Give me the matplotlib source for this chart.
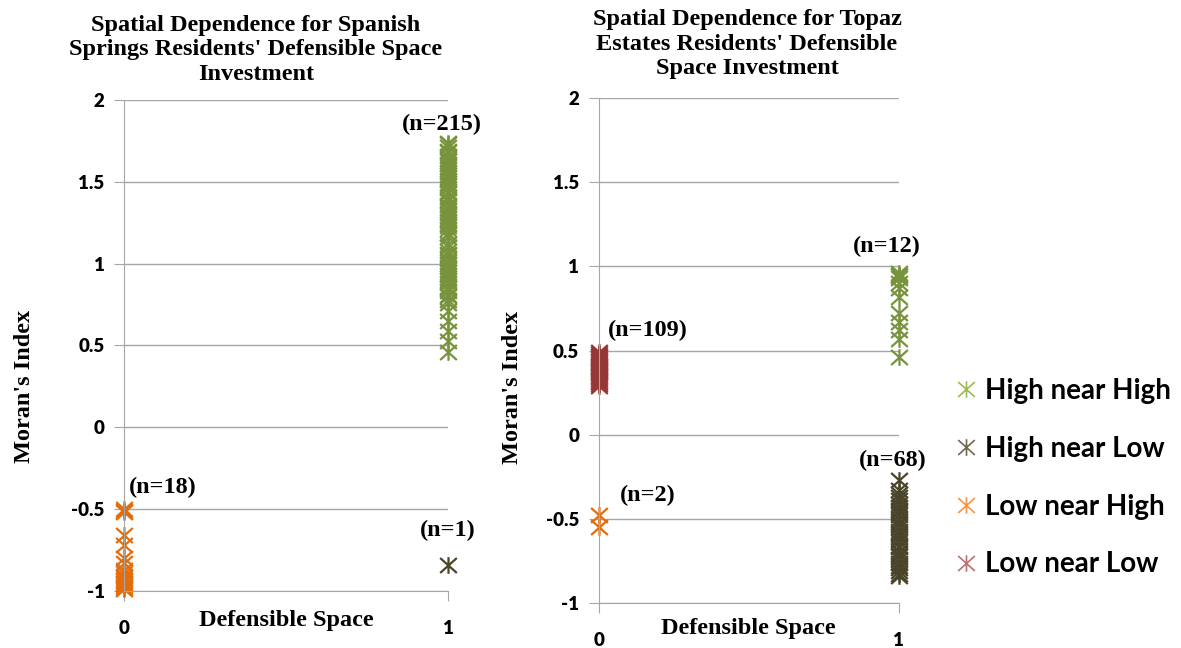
import matplotlib.pyplot as plt
from matplotlib.path import Path
from matplotlib.lines import Line2D

# ---- data ----
# Spanish Springs (left panel)
ss_high_high = [0.46, 0.53, 0.59, 0.65, 0.71, 0.76, 0.78, 0.80, 0.81, 0.83, 0.85, 0.86,
                0.88, 0.90, 0.91, 0.93, 0.95, 0.96, 0.98, 1.00, 1.01, 1.03, 1.05, 1.06,
                1.08, 1.10, 1.12, 1.16, 1.18, 1.19, 1.21, 1.23, 1.24, 1.26, 1.28, 1.29,
                1.31, 1.33, 1.34, 1.36, 1.38, 1.39, 1.41, 1.43, 1.44, 1.46, 1.48, 1.49,
                1.51, 1.53, 1.54, 1.56, 1.58, 1.59, 1.61, 1.63, 1.64, 1.66, 1.68, 1.69,
                1.71, 1.73, 1.74]
ss_high_low = [-0.84]
ss_low_high = [-0.50, -0.51, -0.52, -0.66, -0.72, -0.80, -0.83, -0.87, -0.89, -0.91,
               -0.92, -0.93, -0.94, -0.95, -0.96, -0.97, -0.98, -0.99]
ss_n = {"hh": "(n=215)", "hl": "(n=1)", "lh": "(n=18)"}

# Topaz Estates (right panel)
te_high_high = [0.96, 0.95, 0.94, 0.93, 0.90, 0.87, 0.82, 0.72, 0.67, 0.62, 0.57, 0.46]
te_high_low = [-0.27, -0.33, -0.35, -0.37, -0.39, -0.41, -0.43, -0.45, -0.46, -0.48,
               -0.50, -0.52, -0.53, -0.55, -0.57, -0.59, -0.60, -0.62, -0.64, -0.66,
               -0.67, -0.69, -0.71, -0.72, -0.74, -0.76, -0.78, -0.79, -0.81, -0.83,
               -0.84]
te_low_high = [-0.48, -0.55]
te_low_low = [0.29, 0.30, 0.31, 0.32, 0.33, 0.34, 0.35, 0.36, 0.37, 0.38, 0.39, 0.40,
              0.41, 0.42, 0.43, 0.44, 0.45, 0.46, 0.47, 0.48, 0.49]

legend_labels = ["High near High", "High near Low", "Low near High", "Low near Low"]

GREEN = "#77933C"
DARK = "#4A452A"
ORANGE = "#E46C0A"
RED = "#953735"
GRID = "#A6A6A6"

# excel-like star marker: an X with a vertical bar through it
star = Path([(-1, -0.9), (1, 0.9), (-1, 0.9), (1, -0.9), (0, -1), (0, 1)],
            [Path.MOVETO, Path.LINETO, Path.MOVETO, Path.LINETO, Path.MOVETO, Path.LINETO])

serif = "Liberation Serif"
sans = "Lato"
SERIF_SIZE = 17.5


def scatter_col(ax, x, vals, color):
    ax.plot([x] * len(vals), vals, linestyle="none", marker=star, ms=12, mew=1.6,
            color=color, clip_on=False)


def setup_axes(ax):
    ax.set_xlim(0, 1)
    ax.set_ylim(-1, 2)
    ax.set_yticks([-1, -0.5, 0, 0.5, 1, 1.5, 2])
    ax.set_yticklabels(["-1", "-0.5", "0", "0.5", "1", "1.5", "2"])
    ax.set_xticks([0, 1])
    ax.set_xticklabels(["0", "1"])
    for s in ["top", "right"]:
        ax.spines[s].set_visible(False)
    ax.spines["left"].set_color(GRID)
    ax.spines["bottom"].set_color(GRID)
    ax.grid(axis="y", color=GRID, lw=1)
    ax.set_axisbelow(True)
    ax.tick_params(axis="y", direction="out", length=7, color=GRID, pad=7)
    ax.tick_params(axis="x", direction="out", length=7, color=GRID, pad=14)
    for lab in ax.get_xticklabels() + ax.get_yticklabels():
        lab.set_fontfamily(sans)
        lab.set_fontweight("heavy")
        lab.set_fontsize(13.5)


def note(ax, x, y, txt):
    ax.text(x, y, txt, ha="center", va="center", fontfamily=serif,
            fontweight="bold", fontsize=SERIF_SIZE)


fig = plt.figure(figsize=(11.81, 6.48), dpi=100)

# left panel
ax1 = fig.add_axes([0.105, 0.088, 0.2743, 0.7577])
setup_axes(ax1)
scatter_col(ax1, 1, ss_high_high, GREEN)
scatter_col(ax1, 1, ss_high_low, DARK)
scatter_col(ax1, 0, ss_low_high, ORANGE)
note(ax1, 0.98, 1.85, ss_n["hh"])
note(ax1, 0.12, -0.37, ss_n["lh"])
note(ax1, 1.0, -0.63, ss_n["hl"])
ax1.annotate("Defensible Space", xy=(0.5, 0), xycoords="axes fraction",
             xytext=(0, -21), textcoords="offset points", ha="center", va="center",
             fontfamily=serif, fontweight="bold", fontsize=SERIF_SIZE)
fig.text(25 / 1181, 1 - 386 / 648, "Moran's Index", rotation=90, ha="center", va="center",
         fontfamily=serif, fontweight="bold", fontsize=SERIF_SIZE)
fig.text(256 / 1181, 1 - 50 / 648,
         "Spatial Dependence for Spanish\nSprings Residents' Defensible Space\nInvestment",
         ha="center", va="center", fontfamily=serif, fontweight="bold", fontsize=SERIF_SIZE,
         linespacing=1.2)

# right panel
ax2 = fig.add_axes([0.507, 0.0694, 0.254, 0.7794])
setup_axes(ax2)
scatter_col(ax2, 1, te_high_high, GREEN)
scatter_col(ax2, 1, te_high_low, DARK)
scatter_col(ax2, 0, te_low_high, ORANGE)
scatter_col(ax2, 0, te_low_low, RED)
note(ax2, 0.96, 1.12, "(n=12)")
note(ax2, 0.163, 0.62, "(n=109)")
note(ax2, 0.163, -0.36, "(n=2)")
note(ax2, 0.98, -0.155, "(n=68)")
ax2.annotate("Defensible Space", xy=(0.5, 0), xycoords="axes fraction",
             xytext=(0, -18), textcoords="offset points", ha="center", va="center",
             fontfamily=serif, fontweight="bold", fontsize=SERIF_SIZE)
fig.text(513 / 1181, 1 - 387 / 648, "Moran's Index", rotation=90, ha="center", va="center",
         fontfamily=serif, fontweight="bold", fontsize=SERIF_SIZE)
fig.text(747 / 1181, 1 - 44 / 648,
         "Spatial Dependence for Topaz\nEstates Residents' Defensible\nSpace Investment",
         ha="center", va="center", fontfamily=serif, fontweight="bold", fontsize=SERIF_SIZE,
         linespacing=1.2)

# legend
leg_colors = ["#9BBB59", "#6E6A50", "#F79646", "#C0706E"]
handles = [Line2D([], [], linestyle="none", marker=star, ms=12, mew=1.2, color=c)
           for c in leg_colors]
fig.legend(handles, legend_labels, loc="center left", bbox_to_anchor=(0.806, 0.263),
           frameon=False, borderpad=0, borderaxespad=0, handlelength=1.0,
           handletextpad=0.2, labelspacing=1.15,
           prop={"family": sans, "weight": "bold", "size": 20})

fig.savefig("out.png", dpi=100)
